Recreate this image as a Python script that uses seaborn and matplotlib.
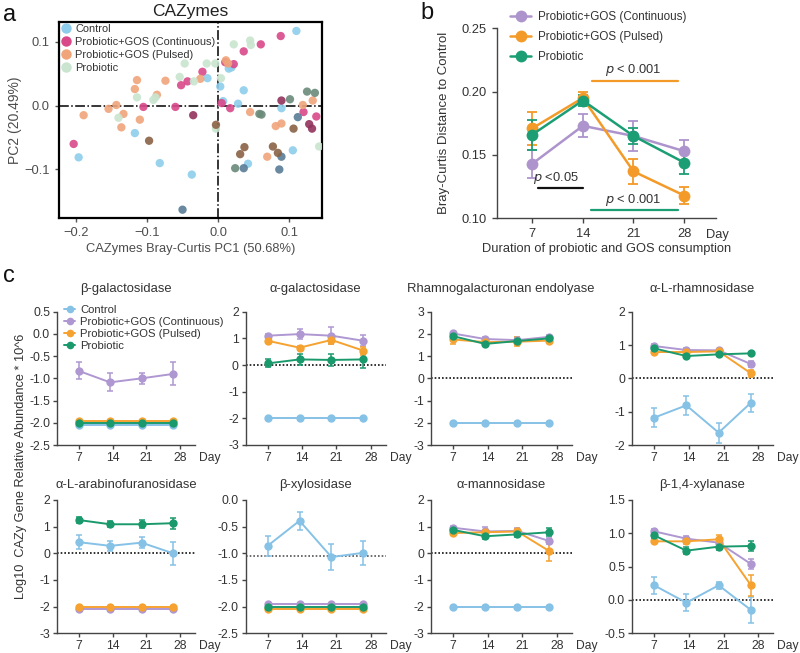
import numpy as np
import pandas as pd
import matplotlib
matplotlib.use("Agg")
import matplotlib.pyplot as plt
from matplotlib.ticker import FormatStrFormatter
from matplotlib.lines import Line2D
import seaborn as sns

# ---------------- data: panel a (PCoA) ----------------
groups = ["Control", "Probiotic+GOS (Continuous)", "Probiotic+GOS (Pulsed)", "Probiotic"]

ctrl_x = [0.110, -0.196, -0.082, -0.037, -0.117, 0.019, -0.015, 0.003, 0.036, 0.028, 0.007, 0.042, 0.089, 0.105, 0.015]
ctrl_y = [0.117, -0.081, -0.090, -0.108, -0.043, 0.060, 0.043, 0.030, 0.024, 0.003, 0.007, -0.091, -0.004, -0.070, 0.058]
ctrl_dark_x = [-0.050, 0.036, 0.089, 0.086, 0.112]
ctrl_dark_y = [-0.163, -0.098, -0.080, -0.100, -0.018]

cont_x = [0.088, 0.060, 0.036, 0.022, -0.022, -0.043, -0.052, -0.203, -0.105, -0.060, 0.017, 0.120, 0.138, 0.010, 0.005]
cont_y = [0.109, 0.096, 0.085, 0.065, 0.053, 0.038, 0.032, -0.060, -0.002, -0.002, -0.004, -0.010, -0.017, 0.068, 0.004]
cont_dark_x = [-0.035, 0.089, 0.128, 0.132]
cont_dark_y = [-0.015, 0.008, -0.029, -0.036]

puls_x = [0.011, 0.014, -0.074, -0.114, -0.117, -0.086, -0.025, -0.143, -0.154, -0.133, -0.189, -0.136, -0.110, 0.045, 0.081, 0.089, 0.069, 0.119, 0.133]
puls_y = [0.071, 0.066, 0.039, 0.040, 0.026, 0.017, 0.042, 0.001, -0.005, -0.013, -0.015, -0.034, -0.022, -0.010, -0.032, -0.028, -0.080, 0.001, 0.008]
puls_dark_x = [-0.097, -0.003, 0.037, 0.031, 0.077, 0.084, 0.106]
puls_dark_y = [-0.055, -0.030, -0.065, -0.076, -0.064, -0.074, -0.036]

prob_x = [0.022, 0.045, 0.046, -0.047, -0.016, -0.004, -0.034, -0.054, 0.004, -0.114, -0.091, -0.088, -0.140, -0.003, 0.142]
prob_y = [0.096, 0.102, 0.095, 0.066, 0.066, 0.066, 0.038, 0.045, 0.043, 0.013, 0.009, 0.013, -0.019, -0.036, -0.064]
prob_dark_x = [0.058, 0.061, 0.101, 0.024, 0.125, 0.136]
prob_dark_y = [-0.013, -0.014, 0.010, -0.098, 0.022, 0.020]

# ---------------- data: panel b ----------------
days_b = [7, 14, 21, 28]
groups_b = ["Probiotic+GOS (Continuous)", "Probiotic+GOS (Pulsed)", "Probiotic"]
b_cont_mean = [0.143, 0.173, 0.165, 0.153]
b_cont_err = [0.011, 0.009, 0.012, 0.009]
b_puls_mean = [0.171, 0.195, 0.137, 0.118]
b_puls_err = [0.013, 0.005, 0.010, 0.007]
b_prob_mean = [0.166, 0.193, 0.165, 0.144]
b_prob_err = [0.012, 0.004, 0.006, 0.009]

# ---------------- data: panel c ----------------
days_c = [7, 13.5, 20, 26.5]
enzymes = ["β-galactosidase", "α-galactosidase", "Rhamnogalacturonan endolyase", "α-L-rhamnosidase",
           "α-L-arabinofuranosidase", "β-xylosidase", "α-mannosidase", "β-1,4-xylanase"]
# rows: Control, Continuous, Pulsed, Probiotic
bgal_mean = [[-2.05, -2.05, -2.05, -2.05], [-0.83, -1.09, -1.00, -0.90], [-1.95, -1.95, -1.95, -1.95], [-2.00, -2.00, -2.00, -2.00]]
bgal_err = [[0.02, 0.02, 0.02, 0.02], [0.19, 0.20, 0.12, 0.26], [0.02, 0.02, 0.02, 0.02], [0.02, 0.02, 0.02, 0.02]]
agal_mean = [[-2.0, -2.0, -2.0, -2.0], [1.10, 1.16, 1.10, 0.91], [0.91, 0.65, 0.94, 0.54], [0.06, 0.21, 0.19, 0.21]]
agal_err = [[0.03, 0.03, 0.03, 0.03], [0.06, 0.20, 0.33, 0.20], [0.06, 0.05, 0.15, 0.15], [0.15, 0.20, 0.22, 0.33]]
rham_mean = [[-2.0, -2.0, -2.0, -2.0], [2.02, 1.77, 1.72, 1.87], [1.75, 1.63, 1.65, 1.70], [1.90, 1.55, 1.68, 1.80]]
rham_err = [[0.03, 0.03, 0.03, 0.03], [0.08, 0.08, 0.15, 0.08], [0.22, 0.08, 0.20, 0.08], [0.08, 0.08, 0.08, 0.08]]
alrh_mean = [[-1.18, -0.81, -1.63, -0.73], [0.97, 0.85, 0.84, 0.43], [0.79, 0.79, 0.81, 0.15], [0.90, 0.67, 0.72, 0.75]]
alrh_err = [[0.28, 0.28, 0.30, 0.27], [0.05, 0.05, 0.05, 0.08], [0.05, 0.05, 0.05, 0.10], [0.05, 0.05, 0.05, 0.05]]
alar_mean = [[0.42, 0.28, 0.40, 0.00], [-2.08, -2.08, -2.08, -2.08], [-2.00, -2.00, -2.00, -2.00], [1.25, 1.09, 1.09, 1.13]]
alar_err = [[0.25, 0.20, 0.20, 0.42], [0.03, 0.03, 0.03, 0.03], [0.03, 0.03, 0.03, 0.03], [0.10, 0.12, 0.15, 0.20]]
bxyl_mean = [[-0.86, -0.39, -1.07, -0.99], [-1.95, -1.95, -1.95, -1.95], [-2.05, -2.05, -2.05, -2.05], [-2.00, -2.00, -2.00, -2.00]]
bxyl_err = [[0.19, 0.17, 0.25, 0.23], [0.02, 0.02, 0.02, 0.02], [0.02, 0.02, 0.02, 0.02], [0.02, 0.02, 0.02, 0.02]]
aman_mean = [[-2.0, -2.0, -2.0, -2.0], [0.96, 0.82, 0.84, 0.46], [0.76, 0.79, 0.82, 0.08], [0.88, 0.64, 0.71, 0.79]]
aman_err = [[0.03, 0.03, 0.03, 0.03], [0.08, 0.15, 0.10, 0.10], [0.06, 0.06, 0.10, 0.35], [0.08, 0.10, 0.08, 0.15]]
bx14_mean = [[0.22, -0.04, 0.22, -0.15], [1.03, 0.92, 0.86, 0.54], [0.88, 0.88, 0.91, 0.22], [0.97, 0.74, 0.80, 0.81]]
bx14_err = [[0.13, 0.13, 0.05, 0.20], [0.04, 0.04, 0.04, 0.08], [0.03, 0.04, 0.07, 0.16], [0.04, 0.05, 0.05, 0.07]]

c_means = [bgal_mean, agal_mean, rham_mean, alrh_mean, alar_mean, bxyl_mean, aman_mean, bx14_mean]
c_errs = [bgal_err, agal_err, rham_err, alrh_err, alar_err, bxyl_err, aman_err, bx14_err]
c_ylims = [(-2.5, 0.5), (-3, 2), (-3, 3), (-2, 2), (-3, 2), (-2.5, 0.0), (-3, 2), (-0.5, 1.5)]
c_ysteps = [0.5, 1, 1, 1, 1, 0.5, 1, 0.5]
c_refline = [None, 0, 0, 0, 0, -1.05, 0, 0]

# ---------------- style ----------------
sns.set_theme(style="ticks")
plt.rcParams['font.family'] = ['Liberation Sans', 'DejaVu Sans']
plt.rcParams['axes.unicode_minus'] = False
TXT = "#333333"
SP = "#444444"

pal_a = {"Control": "#8DCDEB", "Probiotic+GOS (Continuous)": "#D9498A",
         "Probiotic+GOS (Pulsed)": "#F0A47A", "Probiotic": "#C9E5CF"}
pal_a_dark = {"Control": "#577C96", "Probiotic+GOS (Continuous)": "#93335D",
              "Probiotic+GOS (Pulsed)": "#8A6246", "Probiotic": "#6A8A7A"}
pal_b = {"Probiotic+GOS (Continuous)": "#AE94CC", "Probiotic+GOS (Pulsed)": "#F39A28", "Probiotic": "#1C9E75"}
pal_c = {"Control": "#86C1E6", "Probiotic+GOS (Continuous)": "#AF97D1",
         "Probiotic+GOS (Pulsed)": "#F5A230", "Probiotic": "#1A9A6C"}

W, H = 800, 653
fig = plt.figure(figsize=(8, 6.53), dpi=100)


def add_ax(l, t, r, b):
    return fig.add_axes([l / W, 1 - b / H, (r - l) / W, (b - t) / H])


def prism(ax, size=9, length=3.5, pad=3.5):
    sns.despine(ax=ax)
    for s in ("left", "bottom"):
        ax.spines[s].set_color(SP)
        ax.spines[s].set_linewidth(1.0)
    ax.tick_params(direction="out", length=length, width=1.0, pad=pad, color=SP,
                   labelcolor=TXT, labelsize=size)


# ---------------- panel a ----------------
ax = add_ax(59, 22, 322, 218)
rows = []
for g, xs, ys in zip(groups, [ctrl_x, cont_x, puls_x, prob_x], [ctrl_y, cont_y, puls_y, prob_y]):
    for x, y in zip(xs, ys):
        rows.append((g, x, y))
df_a = pd.DataFrame(rows, columns=["group", "x", "y"])
rows = []
for g, xs, ys in zip(groups, [ctrl_dark_x, cont_dark_x, puls_dark_x, prob_dark_x],
                     [ctrl_dark_y, cont_dark_y, puls_dark_y, prob_dark_y]):
    for x, y in zip(xs, ys):
        rows.append((g, x, y))
df_ad = pd.DataFrame(rows, columns=["group", "x", "y"])
sns.scatterplot(data=df_a, x="x", y="y", hue="group", hue_order=groups, palette=pal_a,
                s=36, alpha=0.9, linewidth=0, ax=ax, legend=False, zorder=3)
sns.scatterplot(data=df_ad, x="x", y="y", hue="group", hue_order=groups, palette=pal_a_dark,
                s=36, alpha=0.9, linewidth=0, ax=ax, legend=False, zorder=3)
ax.axhline(0, color="black", lw=1.1, ls="-.", zorder=2)
ax.axvline(0, color="black", lw=1.1, ls="-.", zorder=2)
ax.set_xlim(-0.2236, 0.146)
ax.set_ylim(-0.176, 0.131)
ax.set_xticks([-0.2, -0.1, 0.0, 0.1])
ax.set_xticklabels(["\u22120.2", "\u22120.1", "0.0", "0.1"])
ax.set_yticks([-0.1, 0.0, 0.1])
ax.set_yticklabels(["\u22120.1", "0.0", "0.1"])
for s in ax.spines.values():
    s.set_color("black")
    s.set_linewidth(1.6)
ax.tick_params(direction="out", length=3, width=1, color="#555555", labelcolor="#4D4D4D", labelsize=9.3)
ax.set_xlabel("CAZymes Bray-Curtis PC1 (50.68%)", fontsize=9.3, color="#4D4D4D", labelpad=3)
ax.set_ylabel("PC2 (20.49%)", fontsize=10, color="#4D4D4D")
ax.yaxis.set_label_coords((21.7 - 59) / 263, 0.5)
ax.set_title("CAZymes", fontsize=12.5, color="#222222", pad=4)
handles = [Line2D([], [], marker="o", ls="", markersize=7.5, markerfacecolor=pal_a[g],
                  markeredgewidth=0, label=g) for g in groups]
ax.legend(handles=handles, loc="upper left", bbox_to_anchor=(-0.028, 1.025), frameon=False,
          fontsize=7.9, handletextpad=0.15, labelspacing=0.28, borderaxespad=0.2,
          labelcolor="#333333", handlelength=1.4)

# ---------------- panel b ----------------
ax = add_ax(496.7, 28.3, 716, 218.3)
rows = []
for g, m in zip(groups_b, [b_cont_mean, b_puls_mean, b_prob_mean]):
    for d, v in zip(days_b, m):
        rows.append((g, d, v))
df_b = pd.DataFrame(rows, columns=["group", "day", "value"])
sns.lineplot(data=df_b, x="day", y="value", hue="group", hue_order=groups_b, palette=pal_b,
             marker="o", markersize=8.5, markeredgewidth=0, linewidth=1.8, ax=ax, legend=False,
             errorbar=None, zorder=3)
for g, m, e in zip(groups_b, [b_cont_mean, b_puls_mean, b_prob_mean], [b_cont_err, b_puls_err, b_prob_err]):
    ax.errorbar(days_b, m, yerr=e, fmt="none", ecolor=pal_b[g], elinewidth=1.3, capsize=3.5,
                capthick=1.3, zorder=2)
prism(ax, size=9.3)
ax.set_xlim(2.1, 32.4)
ax.set_ylim(0.10, 0.25)
ax.set_xticks(days_b)
ax.set_yticks([0.10, 0.15, 0.20, 0.25])
ax.yaxis.set_major_formatter(FormatStrFormatter("%.2f"))
ax.set_xlabel("Duration of probiotic and GOS consumption", fontsize=9.3, color=TXT, labelpad=2)
ax.set_ylabel("Bray-Curtis Distance to Control", fontsize=9.5, color=TXT)
ax.yaxis.set_label_coords((450 - 496.7) / 219.3, 0.5)
ax.annotate("Day", xy=(1, 0), xycoords="axes fraction", xytext=(-7, -7.5), textcoords="offset points",
            ha="left", va="top", fontsize=9.3, color=TXT)
ax.plot([15.2, 27.2], [0.2085, 0.2085], color=pal_b["Probiotic+GOS (Pulsed)"], lw=1.6)
ax.text(21, 0.2105, "$p$ < 0.001", ha="center", va="bottom", fontsize=9.3, color=TXT)
ax.plot([7.74, 13.96], [0.1237, 0.1237], color="#111111", lw=1.6)
ax.text(10.3, 0.1257, "$p$ <0.05", ha="center", va="bottom", fontsize=9.3, color=TXT)
ax.plot([15.1, 27.1], [0.1063, 0.1063], color=pal_b["Probiotic"], lw=1.6)
ax.text(21, 0.1083, "$p$ < 0.001", ha="center", va="bottom", fontsize=9.3, color=TXT)
handles = [Line2D([], [], marker="o", color=pal_b[g], lw=1.8, markersize=8.5, markeredgewidth=0, label=g)
           for g in groups_b]
fig.legend(handles=handles, loc="upper left", bbox_to_anchor=(510 / W, 1 - 11 / H), frameon=False,
           fontsize=8.4, handlelength=1.8, handletextpad=0.6, labelspacing=0.68, borderpad=0,
           borderaxespad=0, labelcolor=TXT)

# ---------------- panel c ----------------
col_lr = [(56.7, 195), (245.5, 385.5), (430.7, 571.7), (631.7, 773.3)]
row_tb = [(311.7, 445), (500, 633.3)]
row_pad = [14, 8.5]
for i, name in enumerate(enzymes):
    r, c = divmod(i, 4)
    ax = add_ax(col_lr[c][0], row_tb[r][0], col_lr[c][1], row_tb[r][1])
    means, errs = c_means[i], c_errs[i]
    rows = []
    for g, m in zip(groups, means):
        for d, v in zip(days_c, m):
            rows.append((g, d, v))
    df_c = pd.DataFrame(rows, columns=["group", "day", "value"])
    if c_refline[i] is not None:
        ax.axhline(c_refline[i], color="#111111" if c_refline[i] == 0 else "#555555",
                   lw=1.2, ls=(0, (1, 1.2)), zorder=1)
    sns.lineplot(data=df_c, x="day", y="value", hue="group", hue_order=groups, palette=pal_c,
                 marker="o", markersize=6, markeredgewidth=0, linewidth=1.4, ax=ax, legend=False,
                 errorbar=None, zorder=3)
    for g, m, e in zip(groups, means, errs):
        ax.errorbar(days_c, m, yerr=e, fmt="none", ecolor=pal_c[g], elinewidth=1.1, capsize=2.2,
                    capthick=1.1, zorder=2)
    prism(ax, size=8.7, length=3, pad=1.8)
    ax.set_xlim(2.5, 31)
    lo, hi = c_ylims[i]
    ax.set_ylim(lo, hi)
    ax.set_yticks(np.arange(lo, hi + 1e-9, c_ysteps[i]))
    ax.yaxis.set_major_formatter(FormatStrFormatter("%.1f" if c_ysteps[i] < 1 else "%d"))
    ax.set_xticks([7, 14, 21, 28])
    ax.set_xlabel("")
    ax.set_ylabel("")
    ax.set_title(name, fontsize=9.4, color=TXT, pad=row_pad[r])
    ax.annotate("Day", xy=(1, 0), xycoords="axes fraction", xytext=(3, -4.8), textcoords="offset points",
                ha="left", va="top", fontsize=8.7, color=TXT)
    if i == 0:
        handles = [Line2D([], [], marker="o", color=pal_c[g], lw=1.4, markersize=5.5, markeredgewidth=0,
                          label=g) for g in groups]
        fig.legend(handles=handles, loc="upper left", bbox_to_anchor=(64 / W, 1 - 305 / H), frameon=False,
                   fontsize=8.1, handlelength=1.0, handletextpad=0.45, labelspacing=0.18, borderpad=0,
                   borderaxespad=0, labelcolor=TXT)

fig.text(21.5 / W, 1 - 466 / H, "Log10  CAZy Gene Relative Abundance * 10^6", rotation=90,
         ha="center", va="center", fontsize=9.2, color=TXT)

fig.text(3 / W, 1 - 15 / H, "a", fontsize=17, color="#111111", ha="left", va="center")
fig.text(420 / W, 1 - 13 / H, "b", fontsize=17, color="#111111", ha="left", va="center")
fig.text(3 / W, 1 - 276 / H, "c", fontsize=17, color="#111111", ha="left", va="center")

fig.savefig("out.png", dpi=100)
